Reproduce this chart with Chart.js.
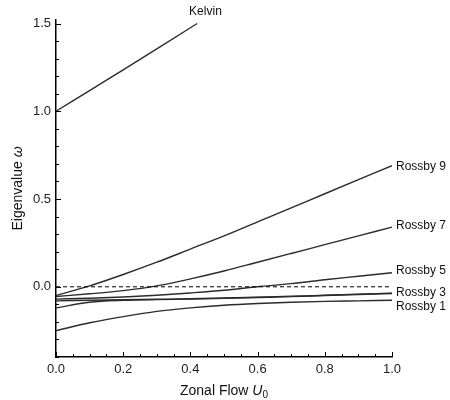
<!DOCTYPE html>
<html>
<head>
<meta charset="utf-8">
<script src="https://cdn.jsdelivr.net/npm/chart.js@4.4.1/dist/chart.umd.min.js"></script>
<style>
  body { margin: 0; background: #fff; }
  #wrap { width: 450px; height: 400px; }
</style>
</head>
<body>
<div id="wrap"><canvas id="eigenChart" width="450" height="400"></canvas></div>
<script>
// Zonal flow values (x) and eigenvalue curves
var uGrid = [0, 0.1, 0.2, 0.3, 0.4, 0.5, 0.6, 0.7, 0.8, 0.9, 1.0];
var rossby9 = [-0.05, 0.005, 0.07, 0.14, 0.215, 0.29, 0.37, 0.45, 0.53, 0.61, 0.69];
var rossby7 = [-0.055, -0.04, -0.022, 0.005, 0.045, 0.09, 0.14, 0.19, 0.24, 0.29, 0.34];
var rossby5 = [-0.07, -0.065, -0.058, -0.048, -0.035, -0.02, 0.0, 0.018, 0.04, 0.06, 0.08];
var rossby3 = [-0.08, -0.077, -0.074, -0.071, -0.068, -0.064, -0.059, -0.054, -0.048, -0.042, -0.036];
var extraMode = [-0.12, -0.088, -0.077, -0.073, -0.07, -0.066, -0.061, -0.056, -0.05, -0.044, -0.038];
var rossby1 = [-0.25, -0.205, -0.17, -0.14, -0.12, -0.105, -0.095, -0.088, -0.083, -0.08, -0.077];

var kelvinU = [0, 0.1, 0.2, 0.3, 0.42];
var kelvin = [1.0, 1.118, 1.236, 1.355, 1.5];

var zeroU = [0, 1.0];
var zeroLine = [0, 0];

var xTickLabels = [0, 0.2, 0.4, 0.6, 0.8, 1.0];
var yTickLabels = [0, 0.5, 1.0, 1.5];
var xMinorTicks = [0, 0.05, 0.1, 0.15, 0.2, 0.25, 0.3, 0.35, 0.4, 0.45, 0.5, 0.55, 0.6, 0.65, 0.7, 0.75, 0.8, 0.85, 0.9, 0.95, 1.0];
var yMinorTicks = [-0.4, -0.3, -0.2, -0.1, 0, 0.1, 0.2, 0.3, 0.4, 0.5, 0.6, 0.7, 0.8, 0.9, 1.0, 1.1, 1.2, 1.3, 1.4, 1.5];

function pts(xs, ys) {
    return xs.map(function (x, i) { return { x: x, y: ys[i] }; });
}

var lineColor = '#2b2b2b';
var fontFamily = '"Liberation Sans", Arial, sans-serif';

function curve(label, xs, ys, tag) {
    return {
        label: label,
        data: pts(xs, ys),
        borderColor: lineColor,
        borderWidth: 1.4,
        pointRadius: 0,
        cubicInterpolationMode: 'monotone',
        fill: false,
        endTag: tag
    };
}

// end-of-line labels, ticks and axis titles
var decorPlugin = {
    id: 'decor',
    afterDatasetsDraw: function (chart) {
        var c = chart.ctx;
        var xs = chart.scales.x, ys = chart.scales.y;
        var area = chart.chartArea;
        c.save();

        // inward tick marks
        c.strokeStyle = '#000';
        c.lineWidth = 1;
        xMinorTicks.forEach(function (v) {
            var px = Math.round(xs.getPixelForValue(v)) + 0.5;
            var len = xTickLabels.some(function (t) { return Math.abs(t - v) < 1e-9; }) ? 5 : 3;
            c.beginPath();
            c.moveTo(px, area.bottom);
            c.lineTo(px, area.bottom - len);
            c.stroke();
        });
        yMinorTicks.forEach(function (v) {
            var py = Math.round(ys.getPixelForValue(v)) + 0.5;
            var len = yTickLabels.some(function (t) { return Math.abs(t - v) < 1e-9; }) ? 5 : 3;
            c.beginPath();
            c.moveTo(area.left, py);
            c.lineTo(area.left + len, py);
            c.stroke();
        });

        // curve labels
        c.fillStyle = '#111';
        c.font = '12px ' + fontFamily;
        c.textBaseline = 'middle';
        c.textAlign = 'left';
        chart.data.datasets.forEach(function (ds) {
            if (!ds.endTag) return;
            var last = ds.data[ds.data.length - 1];
            var px = xs.getPixelForValue(last.x) + ds.endTag.dx;
            var py = ys.getPixelForValue(last.y) + ds.endTag.dy;
            c.fillText(ds.label, px, py);
        });

        // axis titles
        c.fillStyle = '#111';
        c.font = '14px ' + fontFamily;
        c.textBaseline = 'alphabetic';
        var xt1 = 'Zonal Flow ';
        var w1 = c.measureText(xt1).width;
        c.font = 'italic 14px ' + fontFamily;
        var w2 = c.measureText('U').width;
        c.font = '10px ' + fontFamily;
        var w3 = c.measureText('0').width;
        var cx = (area.left + area.right) / 2;
        var sx = cx - (w1 + w2 + w3) / 2;
        var by = 395;
        c.font = '14px ' + fontFamily;
        c.fillText(xt1, sx, by);
        c.font = 'italic 14px ' + fontFamily;
        c.fillText('U', sx + w1, by);
        c.font = '10px ' + fontFamily;
        c.fillText('0', sx + w1 + w2, by + 3);

        c.translate(22, (area.top + area.bottom) / 2);
        c.rotate(-Math.PI / 2);
        c.font = '14px ' + fontFamily;
        var yt1 = 'Eigenvalue ';
        var yw1 = c.measureText(yt1).width;
        c.font = 'italic 14px ' + fontFamily;
        var yw2 = c.measureText('ω').width;
        var sy = -(yw1 + yw2) / 2;
        c.font = '14px ' + fontFamily;
        c.fillText(yt1, sy, 0);
        c.font = 'italic 14px ' + fontFamily;
        c.fillText('ω', sy + yw1, 0);

        c.restore();
    }
};

var ctx = document.getElementById('eigenChart').getContext('2d');
var chart = new Chart(ctx, {
    type: 'line',
    data: {
        datasets: [
            {
                label: 'zero',
                data: pts(zeroU, zeroLine),
                borderColor: '#000',
                borderWidth: 1,
                borderDash: [4, 3],
                pointRadius: 0,
                fill: false
            },
            curve('Kelvin', kelvinU, kelvin, { dx: -8, dy: -12 }),
            curve('Rossby 9', uGrid, rossby9, { dx: 4, dy: 1 }),
            curve('Rossby 7', uGrid, rossby7, { dx: 4, dy: -1 }),
            curve('Rossby 5', uGrid, rossby5, { dx: 4, dy: -2 }),
            curve('Rossby 3', uGrid, rossby3, { dx: 4, dy: 0 }),
            curve('', uGrid, extraMode, null),
            curve('Rossby 1', uGrid, rossby1, { dx: 4, dy: 6 })
        ]
    },
    options: {
        responsive: false,
        animation: false,
        layout: { padding: { top: 20, right: 58, left: 0, bottom: 0 } },
        plugins: {
            legend: { display: false },
            tooltip: { enabled: false }
        },
        scales: {
            x: {
                type: 'linear',
                min: 0,
                max: 1.0,
                afterFit: function (scale) { scale.height = 43; },
                afterBuildTicks: function (scale) {
                    scale.ticks = xTickLabels.map(function (v) { return { value: v }; });
                },
                grid: { drawOnChartArea: false, drawTicks: false },
                border: { display: true, color: '#000', width: 1.5 },
                ticks: {
                    padding: 5,
                    color: '#222',
                    font: { family: fontFamily, size: 13 },
                    callback: function (v) { return Number(v).toFixed(1); }
                }
            },
            y: {
                type: 'linear',
                min: -0.4,
                max: 1.52,
                afterFit: function (scale) { scale.width = 56; },
                afterBuildTicks: function (scale) {
                    scale.ticks = yTickLabels.map(function (v) { return { value: v }; });
                },
                grid: { drawOnChartArea: false, drawTicks: false },
                border: { display: true, color: '#000', width: 1.5 },
                ticks: {
                    padding: 5,
                    color: '#222',
                    font: { family: fontFamily, size: 13 },
                    callback: function (v) { return Number(v).toFixed(1); }
                }
            }
        }
    },
    plugins: [decorPlugin]
});
</script>
</body>
</html>
